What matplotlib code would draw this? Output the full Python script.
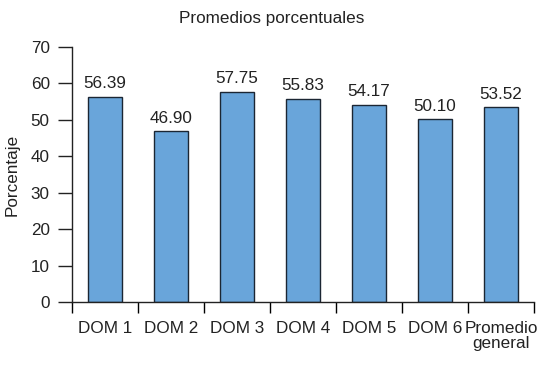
import numpy as np
import matplotlib.pyplot as plt
from matplotlib import font_manager

# datos
categorias = ['DOM 1', 'DOM 2', 'DOM 3', 'DOM 4', 'DOM 5', 'DOM 6', 'Promedio\ngeneral']
valores = [56.39, 46.90, 57.75, 55.83, 54.17, 50.10, 53.52]
etiquetas = ['56.39', '46.90', '57.75', '55.83', '54.17', '50.10', '53.52']

nombres = {f.name for f in font_manager.fontManager.ttflist}
fuente = 'Liberation Sans Narrow' if 'Liberation Sans Narrow' in nombres else 'Liberation Sans'
plt.rcParams['font.family'] = [fuente, 'DejaVu Sans']

tam = 12.3
fig = plt.figure(figsize=(5.48, 3.68), dpi=100)
ax = fig.add_axes([72 / 548, 1 - 302 / 368, 462 / 548, 255 / 368])

x = np.arange(len(categorias))
ax.bar(x, valores, width=0.52, color='#69a5da', edgecolor='#1b2633', linewidth=1.0)

for xi, v, t in zip(x, valores, etiquetas):
    ax.text(xi, v + 1.5, t, ha='center', va='bottom', fontsize=tam, color='#222222')

ax.set_xlim(-0.5, len(categorias) - 0.5)
ax.set_ylim(0, 70)
ax.set_yticks(range(0, 71, 10))
ax.tick_params(axis='y', direction='out', length=10, width=1, labelsize=tam, pad=6, colors='#222222')

# ticks del eje x en los limites entre categorias
ax.set_xticks(np.arange(-0.5, len(categorias)), minor=False)
ax.set_xticklabels([])
ax.set_xticks(x, minor=True)
ax.set_xticklabels(categorias, minor=True, fontsize=tam, color='#222222', linespacing=0.95)
ax.tick_params(axis='x', which='major', direction='out', length=8, width=1)
ax.tick_params(axis='x', which='minor', length=0, pad=14)

for lado in ['top', 'right']:
    ax.spines[lado].set_visible(False)
for lado in ['left', 'bottom']:
    ax.spines[lado].set_color('#222222')
    ax.spines[lado].set_linewidth(1)

ax.set_ylabel('Porcentaje', fontsize=tam, color='#222222', labelpad=8)
fig.text(272 / 548, 1 - 19 / 368, 'Promedios porcentuales', ha='center', va='center',
         fontsize=tam, color='#222222')

fig.savefig('out.png', dpi=100)
